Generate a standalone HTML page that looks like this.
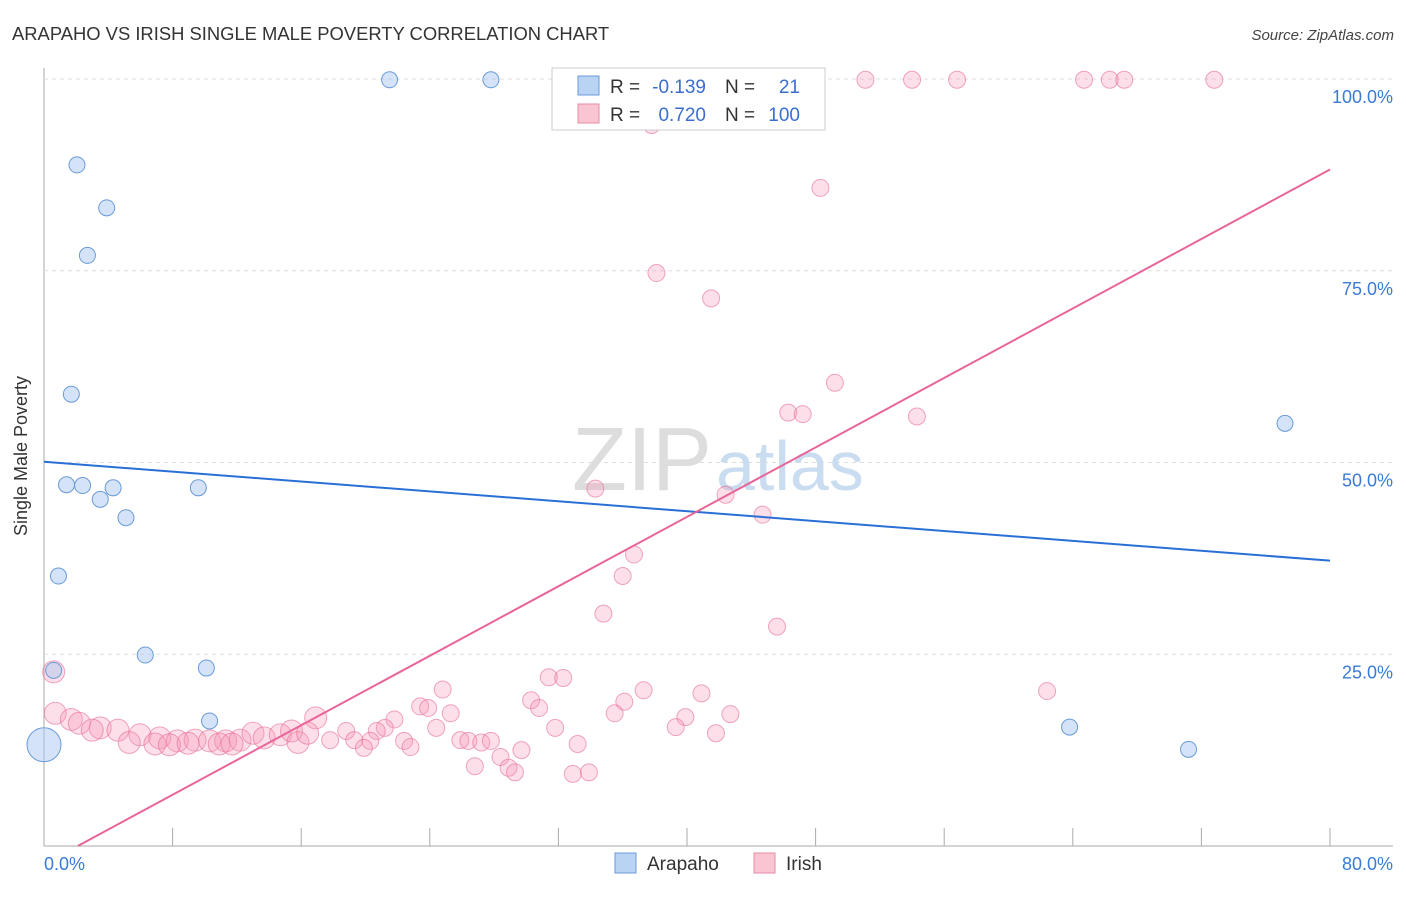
<!DOCTYPE html>
<html><head><meta charset="utf-8"><style>
body{margin:0;background:#fff;font-family:"Liberation Sans",sans-serif;}
svg text{font-family:"Liberation Sans",sans-serif;}
</style></head><body>
<svg id="chart" width="1406" height="892" xmlns="http://www.w3.org/2000/svg">
<text x="12" y="40" font-size="18.4" fill="#333">ARAPAHO VS IRISH SINGLE MALE POVERTY CORRELATION CHART</text>
<text x="1394" y="40" font-size="15" fill="#444" text-anchor="end" font-style="italic">Source: ZipAtlas.com</text>
<g id="grid"></g>
<text x="712" y="490" font-size="90" text-anchor="end" fill="#ddd" font-family="Liberation Serif">ZIP</text>
<text x="716" y="490" font-size="70" fill="#c9dcf0">atlas</text>
<g id="pts"></g>
<g id="lines"></g>
<text x="27" y="456" font-size="18" fill="#333" text-anchor="middle" transform="rotate(-90 27 456)">Single Male Poverty</text>
<g id="yt"></g>
<text x="44" y="870" font-size="18" fill="#3a7bd5">0.0%</text>
<text x="1393" y="870" font-size="18" fill="#3a7bd5" text-anchor="end">80.0%</text>
<g>
<rect x="552" y="68" width="273" height="62" fill="#fff" stroke="#ccc"/>
<rect x="578" y="76" width="21" height="19" fill="#b9d3f3" stroke="#6a9bd8"/>
<rect x="578" y="104" width="21" height="19" fill="#f9c5d3" stroke="#e98aa6"/>
<text x="610" y="93" font-size="19" fill="#333">R =</text>
<text x="706" y="93" font-size="19" fill="#3a6fd0" text-anchor="end">-0.139</text>
<text x="725" y="93" font-size="19" fill="#333">N =</text>
<text x="800" y="93" font-size="19" fill="#3a6fd0" text-anchor="end">21</text>
<text x="610" y="121" font-size="19" fill="#333">R =</text>
<text x="706" y="121" font-size="19" fill="#3a6fd0" text-anchor="end">0.720</text>
<text x="725" y="121" font-size="19" fill="#333">N =</text>
<text x="800" y="121" font-size="19" fill="#3a6fd0" text-anchor="end">100</text>
</g>
<g>
<rect x="615" y="853" width="21" height="20" fill="#b9d3f3" stroke="#6a9bd8"/>
<text x="647" y="870" font-size="19" fill="#333">Arapaho</text>
<rect x="754" y="853" width="21" height="20" fill="#f9c5d3" stroke="#e98aa6"/>
<text x="786" y="870" font-size="19" fill="#333">Irish</text>
</g>
</svg>
<script>
const blueX=[2.05,3.9,2.7,1.7,1.4,2.4,3.5,4.3,5.1,0.9,6.3,10.1,9.6,10.3,21.5,27.8,77.2,63.8,71.2,0.6,0.0];
const blueY=[88.8,83.2,77.0,58.9,47.1,47.0,45.2,46.7,42.8,35.2,24.9,23.2,46.7,16.3,99.9,99.9,55.1,15.5,12.6,22.9,13.2];
const blueR=[8,8,8,8,8,8,8,8,8,8,8,8,8,8,8,8,8,8,8,8,17];
const pinkX=[43.1,51.1,54.0,56.8,64.7,66.3,67.2,72.8,37.8,48.3,38.1,41.5,49.2,46.3,47.2,54.3,34.3,42.4,44.7,36.7,36.0,34.8,45.6,62.4,24.8,31.4,32.3,37.3,40.9,30.3,30.8,36.1,35.5,23.4,23.9,25.3,21.8,16.9,39.9,42.7,39.3,31.8,24.4,21.2,20.7,18.8,41.8,25.9,26.4,27.2,27.8,19.3,20.3,22.4,22.8,19.9,17.8,33.2,29.7,28.4,26.8,28.9,29.3,32.9,33.9,0.6,0.7,1.7,2.2,3.5,4.6,5.97,7.2,8.3,9.4,10.3,11.3,12.2,13.0,13.7,14.7,15.4,15.8,16.4,5.3,6.9,7.8,8.96,10.9,11.7,3.0];
const pinkY=[99.9,99.9,99.9,99.9,99.9,99.9,99.9,99.9,94.0,85.8,74.7,71.4,60.4,56.5,56.3,56.0,46.6,45.8,43.2,38.0,35.2,30.3,28.6,20.2,20.4,22.0,21.9,20.3,19.9,19.0,18.0,18.8,17.3,18.2,18.0,17.3,16.5,16.7,16.8,17.2,15.5,15.4,15.4,15.4,15.0,15.0,14.7,13.8,13.7,13.5,13.7,13.8,13.7,13.7,12.9,12.8,13.8,13.3,12.5,11.6,10.4,10.2,9.6,9.4,9.6,22.7,17.3,16.5,16.0,15.4,15.1,14.5,14.1,13.7,13.8,13.7,13.7,13.8,14.7,14.1,14.5,15.0,13.5,14.7,13.5,13.3,13.2,13.4,13.3,13.3,15.1];
const yTicks=[25,50,75,100];
const yTickLabels=["25.0%","50.0%","75.0%","100.0%"];
const xTicks=[0,8,16,24,32,40,48,56,64,72,80];
const blueLine=[[0,50.1],[80,37.2]];
const pinkLine=[[2.1,0],[80,88.2]];
const X0=44,XS=1286/80,Y0=846,YS=767/100;
const sx=v=>X0+v*XS, sy=v=>Y0-v*YS;
const NS="http://www.w3.org/2000/svg";
function mk(t,a,p){const e=document.createElementNS(NS,t);for(const k in a)e.setAttribute(k,a[k]);p.appendChild(e);return e;}
const grid=document.getElementById('grid'),yt=document.getElementById('yt');
let ax=mk('line',{x1:44,y1:68,x2:44,y2:846,stroke:'#aaa'},grid);


let bx=mk('line',{x1:44,y1:846,x2:1393,y2:846,stroke:'#aaa'},grid);


yTicks.forEach((v,i)=>{
 const g=mk('line',{x1:44,y1:sy(v),x2:1393,y2:sy(v),stroke:'#ddd','stroke-dasharray':'4,4'},grid);
 
 
 const t=mk('text',{x:1393,y:sy(v)+24,'font-size':18,fill:'#3a7bd5','text-anchor':'end'},yt);
 t.textContent=yTickLabels[i];
 
 
});
xTicks.forEach(v=>{
 const l=mk('line',{x1:sx(v),y1:828,x2:sx(v),y2:846,stroke:'#aaa'},grid);
 
 
});
const pts=document.getElementById('pts');
pinkX.forEach((v,i)=>{
 const r=(v<17&&pinkY[i]<25)?11:8.5;
 const c=mk('circle',{cx:sx(v),cy:sy(pinkY[i]),r:r,fill:'rgba(244,150,180,0.3)',stroke:'rgba(230,110,150,0.6)'},pts);
 
 
});
blueX.forEach((v,i)=>{
 const c=mk('circle',{cx:sx(v),cy:sy(blueY[i]),r:blueR[i],fill:'rgba(170,200,240,0.5)',stroke:'#6a9bd8'},pts);
 
 
});
const ln=document.getElementById('lines');
let b=mk('line',{x1:sx(blueLine[0][0]),y1:sy(blueLine[0][1]),x2:sx(blueLine[1][0]),y2:sy(blueLine[1][1]),stroke:'#2a6fd6','stroke-width':2},ln);


let p=mk('line',{x1:sx(pinkLine[0][0]),y1:sy(pinkLine[0][1]),x2:sx(pinkLine[1][0]),y2:sy(pinkLine[1][1]),stroke:'#e8659a','stroke-width':2},ln);


</script>
</body></html>
